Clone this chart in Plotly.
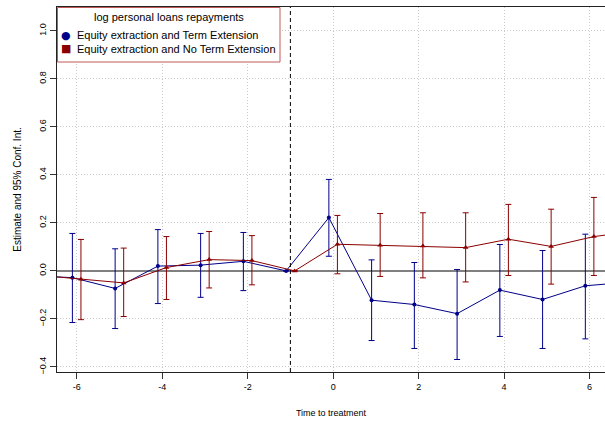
import plotly.graph_objects as go

# Event-study estimates by period relative to treatment
periods = [-7, -6, -5, -4, -3, -2, -1, 0, 1, 2, 3, 4, 5, 6, 7]

# Equity extraction and Term Extension
te_est = [-0.020, -0.028, -0.073, 0.020, 0.024, 0.040, 0.0, 0.222, -0.122, -0.140, -0.178, -0.080, -0.119, -0.062, -0.047]
te_hi = [0.150, 0.156, 0.092, 0.172, 0.156, 0.160, None, 0.381, 0.046, 0.035, 0.006, 0.110, 0.085, 0.153, 0.160]
te_lo = [-0.200, -0.215, -0.240, -0.136, -0.110, -0.082, None, 0.061, -0.290, -0.323, -0.369, -0.273, -0.323, -0.283, -0.260]

# Equity extraction and No Term Extension
nte_est = [-0.018, -0.035, -0.050, 0.014, 0.047, 0.043, 0.0, 0.111, 0.107, 0.104, 0.097, 0.132, 0.102, 0.143, 0.166]
nte_hi = [0.120, 0.131, 0.095, 0.143, 0.164, 0.147, None, 0.231, 0.239, 0.242, 0.242, 0.277, 0.257, 0.306, 0.320]
nte_lo = [-0.160, -0.203, -0.190, -0.119, -0.071, -0.058, None, -0.012, -0.023, -0.029, -0.046, -0.019, -0.055, -0.019, 0.010]

series_names = ["Equity extraction and Term Extension", "Equity extraction and No Term Extension"]
legend_title = "log personal loans repayments"

x_ticks = [-6, -4, -2, 0, 2, 4, 6]
y_ticks = [-0.4, -0.2, 0.0, 0.2, 0.4, 0.6, 0.8, 1.0]

BLUE = "#00008B"
RED = "#8B0000"
FONT = "Arial, Liberation Sans, sans-serif"
DODGE = 0.1

W, H = 605, 422
M_L, M_R, M_T, M_B = 57, 0, 7, 50
PW, PH = W - M_L - M_R, H - M_T - M_B


def px_x(p):
    return (p - M_L) / PW


def px_y(p):
    return 1 - (p - M_T) / PH


def errs(est, hi, lo):
    plus = [None if h is None else h - e for e, h in zip(est, hi)]
    minus = [None if l is None else e - l for e, l in zip(est, lo)]
    return plus, minus


fig = go.Figure()

for name, est, hi, lo, color, sym, size, shift in [
    (series_names[0], te_est, te_hi, te_lo, BLUE, "circle", 4, -DODGE),
    (series_names[1], nte_est, nte_hi, nte_lo, RED, "triangle-up", 5, DODGE),
]:
    plus, minus = errs(est, hi, lo)
    fig.add_trace(go.Scatter(
        x=[p + shift for p in periods], y=est, name=name,
        mode="lines+markers",
        line=dict(color=color, width=1),
        marker=dict(color=color, symbol=sym, size=size),
        error_y=dict(type="data", symmetric=False, array=plus, arrayminus=minus,
                     color=color, thickness=1, width=3),
        showlegend=False,
    ))

# Last pre-treatment period
fig.add_shape(type="line", xref="x", x0=-1, x1=-1, yref="paper", y0=0, y1=1,
              line=dict(color="black", width=1, dash="4px,3px"))

# Boxed key in the top-left corner
fig.add_shape(type="rect", xref="paper", yref="paper",
              x0=px_x(57.5), x1=px_x(280), y0=px_y(62), y1=px_y(7.5),
              line=dict(color="#c05858", width=1), fillcolor="white", layer="above")
fig.add_annotation(xref="paper", yref="paper", x=px_x(168.5), y=px_y(17),
                   text=legend_title, showarrow=False, xanchor="center", yanchor="middle",
                   font=dict(size=11, family=FONT, color="black"))
for row_y, name, color, glyph in [(35, series_names[0], BLUE, "●"), (49, series_names[1], RED, "■")]:
    fig.add_annotation(xref="paper", yref="paper", x=px_x(66), y=px_y(row_y),
                       text=glyph, showarrow=False, xanchor="center", yanchor="middle",
                       font=dict(size=11, family="DejaVu Sans", color=color))
    fig.add_annotation(xref="paper", yref="paper", x=px_x(75), y=px_y(row_y),
                       text=name, showarrow=False, xanchor="left", yanchor="middle",
                       font=dict(size=11, family=FONT, color="black"))

fig.update_layout(
    width=W, height=H,
    margin=dict(l=M_L, r=M_R, t=M_T, b=M_B),
    plot_bgcolor="white", paper_bgcolor="white",
    font=dict(family=FONT, size=10, color="black"),
    showlegend=False,
    xaxis=dict(
        range=[-6.46, 6.36], tickvals=x_ticks, ticktext=[str(v) for v in x_ticks],
        ticks="outside", ticklen=6, tickcolor="#333333",
        showline=True, linecolor="#222222", linewidth=1, mirror=True,
        showgrid=True, gridcolor="#cccccc", griddash="1px,2px", gridwidth=1,
        zeroline=False, tickfont=dict(size=9),
        title=dict(text="Time to treatment", font=dict(size=9), standoff=18),
    ),
    yaxis=dict(
        range=[-0.421, 1.099], tickvals=y_ticks, tickformat=".1f",
        ticks="outside", ticklen=6, tickcolor="#333333", tickangle=-90,
        showline=True, linecolor="#222222", linewidth=1,
        showgrid=True, gridcolor="#cccccc", griddash="1px,2px", gridwidth=1,
        zeroline=True, zerolinecolor="#808080", zerolinewidth=2,
        tickfont=dict(size=9),
        title=dict(text="Estimate and 95% Conf. Int.", font=dict(size=10), standoff=14),
    ),
)

fig.write_html("out.html")
